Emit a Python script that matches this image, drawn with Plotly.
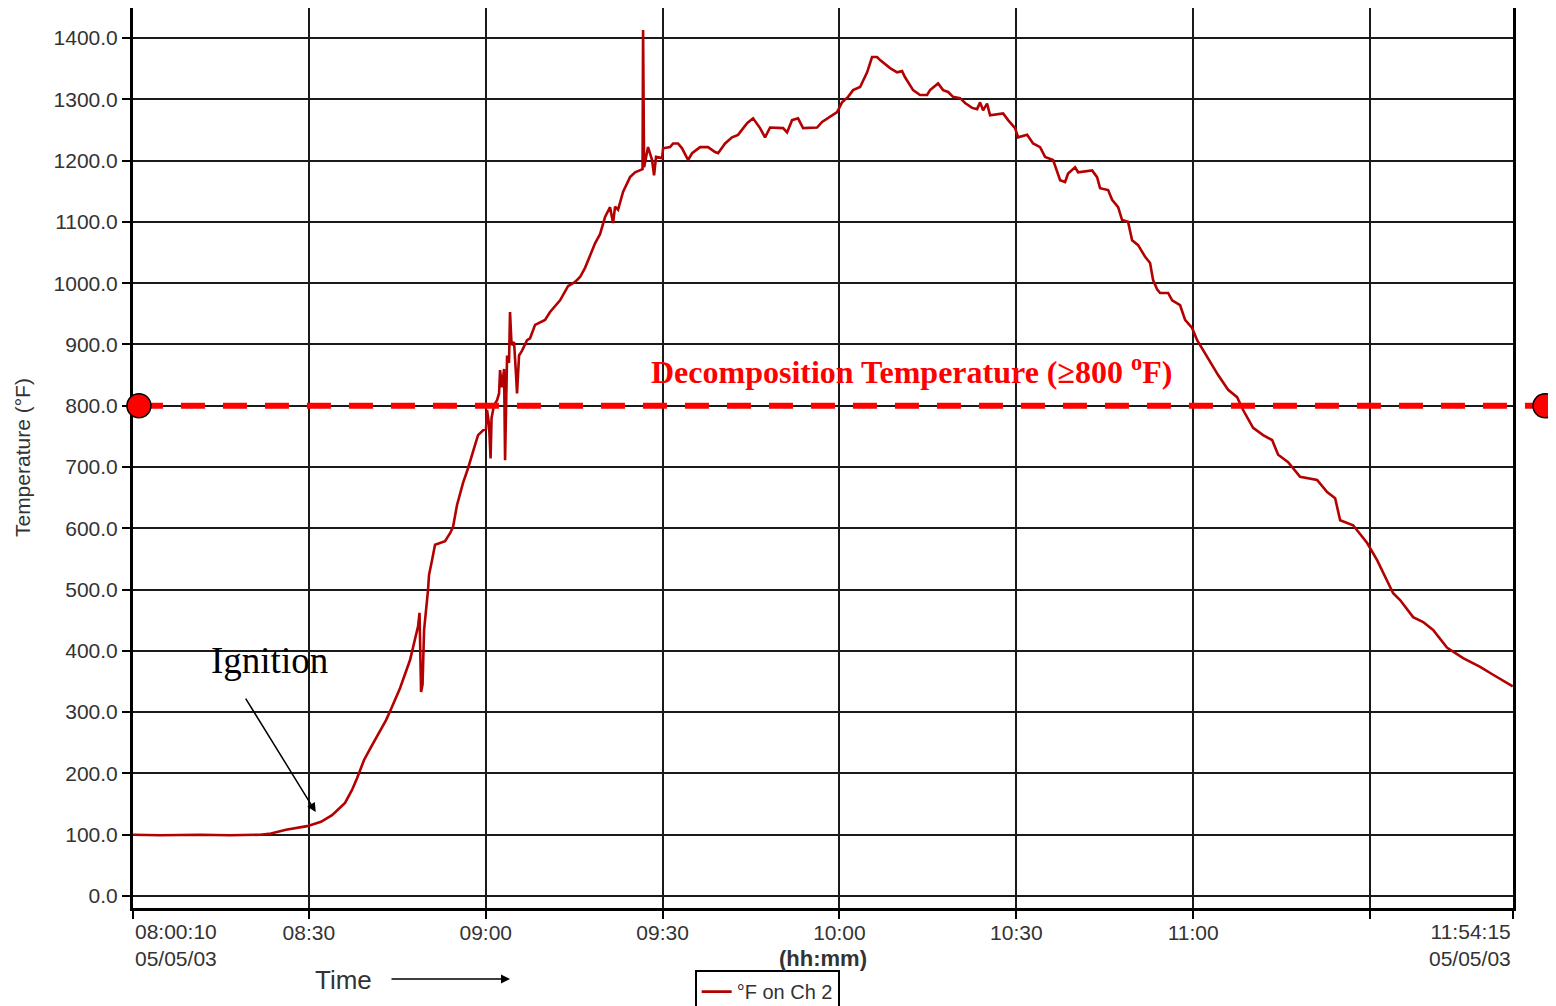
import pandas as pd
import plotly.graph_objects as go

# ---- data: elapsed minutes after 08:00:00 on 05/05/03, temperature (°F) on Ch 2 ----
elapsed_min = [
    0.17, 4.75, 11.53, 16.62, 21.71, 23.58, 26.12, 29.69, 32.06, 33.93,
    36.13, 37.32, 38.17, 38.85, 39.36, 40.54, 41.90, 43.09, 43.94, 45.46,
    47.16, 48.52, 48.77, 49.03, 49.28, 49.54, 50.21, 50.38, 50.89, 51.40,
    53.10, 53.95, 54.45, 55.13, 56.15, 57.00, 58.19, 58.70, 59.54, 60.05,
    60.22, 60.56, 60.82, 60.99, 61.41, 61.92, 62.26, 62.43, 62.77, 63.11,
    63.28, 63.45, 63.62, 63.95, 64.12, 64.38, 64.80, 65.14, 65.31, 65.65,
    66.16, 67.01, 67.52, 68.37, 70.06, 70.91, 72.61, 73.96, 75.15, 76.00,
    76.85, 77.70, 78.54, 79.39, 80.24, 81.09, 81.60, 81.94, 82.45, 83.29,
    84.48, 85.33, 86.18, 86.60, 86.69, 86.86, 87.53, 88.21, 88.55, 88.89,
    89.91, 90.08, 91.27, 91.78, 92.62, 93.30, 94.32, 95.00, 96.36, 97.71,
    98.90, 99.41, 100.60, 101.78, 102.80, 103.65, 104.33, 105.35, 106.53, 107.38,
    108.23, 110.44, 111.11, 111.96, 112.98, 113.83, 116.20, 117.05, 118.41, 119.60,
    120.44, 121.46, 122.31, 123.50, 124.69, 125.53, 126.38, 126.89, 128.59, 129.78,
    130.62, 131.13, 132.49, 133.68, 134.86, 135.37, 136.73, 137.58, 138.43, 139.27,
    140.46, 141.31, 142.50, 143.35, 143.86, 144.36, 145.04, 145.55, 147.76, 148.61,
    149.79, 150.30, 151.83, 152.85, 154.03, 154.88, 156.24, 156.92, 157.43, 158.27,
    158.78, 159.97, 160.48, 162.86, 163.70, 164.21, 165.57, 166.25, 167.27, 167.94,
    168.96, 169.64, 170.66, 171.85, 172.69, 173.20, 173.88, 174.39, 175.75, 176.43,
    177.78, 178.63, 179.82, 180.67, 181.68, 182.87, 184.23, 185.93, 187.45, 188.47,
    190.17, 191.86, 193.39, 194.41, 196.11, 198.14, 199.50, 201.02, 202.72, 204.08,
    204.93, 207.13, 209.51, 211.20, 213.92, 215.10, 217.31, 219.01, 220.70, 223.08,
    225.79, 228.68, 230.88, 234.20,
]
temp_f = [
    100, 99, 100, 99, 100, 102, 108, 114, 121, 132,
    152, 173, 192, 210, 222, 243, 266, 287, 305, 339,
    385, 440, 462, 333, 345, 434, 499, 524, 548, 573,
    579, 592, 602, 638, 674, 698, 736, 752, 760, 762,
    793, 770, 714, 780, 801, 809, 820, 858, 830, 860,
    711, 830, 882, 870, 953, 899, 904, 850, 820, 882,
    890, 907, 910, 932, 940, 953, 972, 995, 1002, 1010,
    1025, 1045, 1065, 1080, 1108, 1124, 1098, 1125, 1120, 1149,
    1173, 1181, 1184, 1186, 1413, 1189, 1222, 1201, 1176, 1206,
    1204, 1220, 1222, 1228, 1228, 1220, 1201, 1212, 1222, 1222,
    1214, 1212, 1228, 1238, 1242, 1253, 1261, 1269, 1253, 1238,
    1254, 1253, 1246, 1266, 1269, 1253, 1254, 1263, 1271, 1279,
    1295, 1304, 1315, 1320, 1344, 1369, 1369, 1364, 1351, 1344,
    1346, 1336, 1315, 1307, 1307, 1315, 1326, 1315, 1312, 1304,
    1302, 1294, 1286, 1284, 1295, 1282, 1293, 1274, 1277, 1266,
    1253, 1238, 1242, 1228, 1222, 1206, 1201, 1184, 1168, 1165,
    1179, 1189, 1181, 1184, 1173, 1155, 1152, 1136, 1124, 1103,
    1100, 1070, 1062, 1043, 1033, 1005, 990, 984, 984, 972,
    964, 940, 927, 907, 891, 870, 850, 826, 814, 793,
    764, 752, 744, 720, 708, 684, 682, 679, 659, 649,
    613, 605, 576, 548, 494, 483, 455, 447, 434, 405,
    388, 374, 361, 342,
]

start_time = "2003-05-05 08:00:10"
end_time = "2003-05-05 11:54:15"
x_tick_times = ["2003-05-05 08:00:10", "2003-05-05 08:30", "2003-05-05 09:00",
                "2003-05-05 09:30", "2003-05-05 10:00", "2003-05-05 10:30",
                "2003-05-05 11:00", "2003-05-05 11:30", "2003-05-05 11:54:15"]
x_tick_text = ["", "08:30", "09:00", "09:30", "10:00", "10:30", "11:00", "", ""]
y_tick_vals = [0, 100, 200, 300, 400, 500, 600, 700, 800, 900, 1000, 1100, 1200, 1300, 1400]
decomp_temp = 800
series_name = "°F on Ch 2"

times = pd.Timestamp("2003-05-05 08:00:00") + pd.to_timedelta(elapsed_min, unit="min")

fig = go.Figure()
fig.add_trace(go.Scatter(
    x=times, y=temp_f, mode="lines", name=series_name,
    line=dict(color="#B30000", width=2.6),
))

# decomposition threshold: dashed line + end markers (shapes extend past plot edge)
fig.add_shape(type="line", xref="paper", yref="y", x0=0.0043, x1=1.0232,
              y0=decomp_temp, y1=decomp_temp,
              line=dict(color="#FF0000", width=6, dash="24px,18px"), layer="above")
for xp in [0.0043, 1.0232]:
    fig.add_shape(type="circle", xref="paper", yref="y",
                  xsizemode="pixel", ysizemode="pixel",
                  xanchor=xp, yanchor=decomp_temp,
                  x0=-12, x1=12, y0=-12, y1=12,
                  fillcolor="#FF0000", line=dict(color="black", width=1.5), layer="above")

sans = "Liberation Sans, Arial"
serif = "Liberation Serif, Times New Roman"
tick_font = dict(family=sans, size=21, color="#333333")

fig.update_layout(
    width=1548, height=998,
    margin=dict(l=125, r=43, t=0, b=98, autoexpand=False),
    paper_bgcolor="white", plot_bgcolor="white",
    showlegend=True,
    legend=dict(orientation="h", x=0.407, xanchor="left", y=-0.069, yanchor="top",
                bordercolor="black", borderwidth=2, bgcolor="white",
                font=dict(family=sans, size=20, color="#333333"),
                itemwidth=30),
    xaxis=dict(type="date", range=[start_time, end_time],
               tickmode="array", tickvals=x_tick_times, ticktext=x_tick_text,
               showgrid=True, gridcolor="#1a1a1a", gridwidth=1.5,
               showline=True, linecolor="black", linewidth=3, mirror=True,
               ticks="outside", ticklen=8, tickwidth=2, tickcolor="black",
               ticklabelstandoff=-4,
               tickfont=tick_font, zeroline=False),
    yaxis=dict(range=[-19.6, 1449], tickmode="array", tickvals=y_tick_vals,
               tickformat=".1f",
               showgrid=True, gridcolor="#1a1a1a", gridwidth=1.5,
               showline=True, linecolor="black", linewidth=3, mirror=True,
               ticks="outside", ticklen=8, tickwidth=2, tickcolor="black",
               tickfont=tick_font, zeroline=False),
)

annotations = [
    dict(text="08:00:10<br>05/05/03", x=start_time, xref="x", y=0, yref="paper",
         xanchor="left", yanchor="top", yshift=-10, align="left", showarrow=False,
         font=tick_font),
    dict(text="11:54:15<br>05/05/03", x=end_time, xref="x", y=0, yref="paper",
         xanchor="right", yanchor="top", yshift=-10, align="right", showarrow=False,
         font=tick_font),
    dict(text="<b>(hh:mm)</b>", x=0.5, xref="paper", y=0, yref="paper",
         xanchor="center", yanchor="middle", yshift=-50, showarrow=False,
         font=dict(family=sans, size=22, color="#333333")),
    dict(text="Temperature (°F)", x=-0.0804, xref="paper", y=0.5, yref="paper",
         xanchor="center", yanchor="middle", textangle=-90, showarrow=False,
         font=dict(family=sans, size=21, color="#333333")),
    dict(text="Time", x=(343 - 133) / 1380, xref="paper", y=0, yref="paper",
         xanchor="center", yanchor="middle", yshift=-72, showarrow=False,
         font=dict(family=sans, size=26, color="#333333")),
    dict(text="", x=(510 - 133) / 1380, xref="paper", y=0, yref="paper", yshift=-71,
         showarrow=True, ax=-120, ay=0, arrowhead=2, arrowsize=1.2, arrowwidth=1.5,
         arrowcolor="black"),
    dict(text="Ignition", x="2003-05-05 08:23:24", xref="x", y=385, yref="y",
         xanchor="center", yanchor="middle", showarrow=False,
         font=dict(family=serif, size=37, color="black")),
    dict(text="", x="2003-05-05 08:31:10", xref="x", y=137, yref="y",
         showarrow=True, ax=-71, ay=-115, arrowhead=2, arrowsize=1.2, arrowwidth=1.5,
         arrowcolor="black"),
    dict(text="<b>Decomposition Temperature (≥800 <sup>o</sup>F)</b>",
         x="2003-05-05 10:12:18", xref="x", y=858, yref="y",
         xanchor="center", yanchor="middle", showarrow=False,
         font=dict(family=serif, size=32, color="#FF0000")),
]
fig.update_layout(annotations=annotations)

fig.write_html("out.html")
